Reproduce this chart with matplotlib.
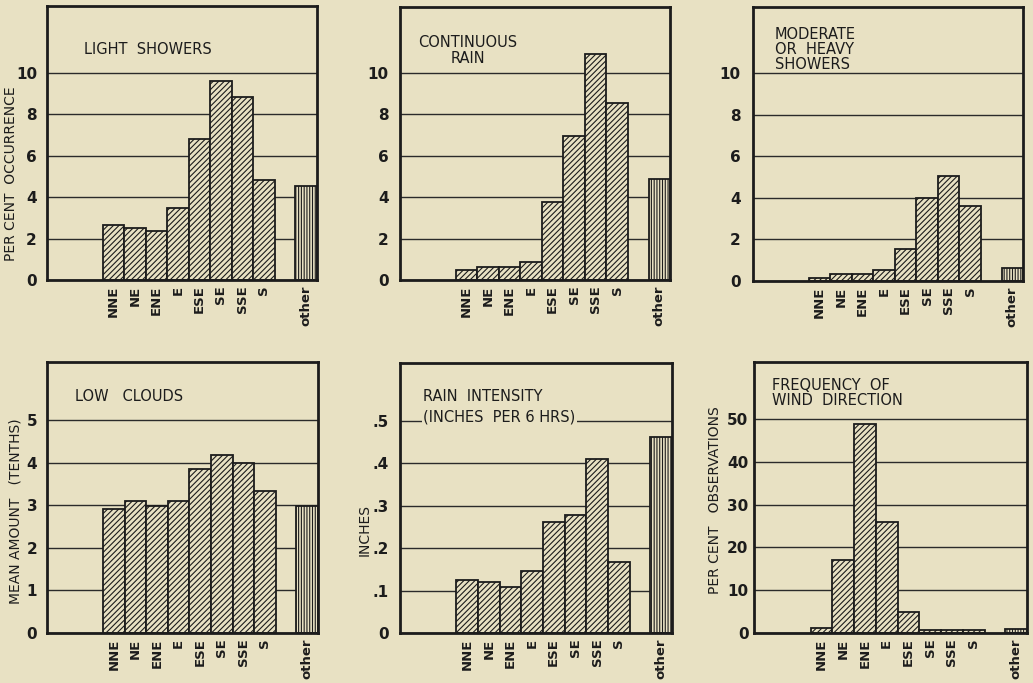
import matplotlib
matplotlib.use('Agg')
import matplotlib.pyplot as plt
import numpy as np

# ---------------- data ----------------
directions = ['NNE', 'NE', 'ENE', 'E', 'ESE', 'SE', 'SSE', 'S']
other_label = 'other'

light_showers = [2.65, 2.5, 2.35, 3.45, 6.8, 9.6, 8.8, 4.8]
light_showers_other = 4.55

continuous_rain = [0.48, 0.64, 0.64, 0.88, 3.75, 6.98, 10.93, 8.53]
continuous_rain_other = 4.86

mod_heavy_showers = [0.13, 0.35, 0.35, 0.54, 1.55, 3.98, 5.05, 3.63]
mod_heavy_showers_other = 0.64

low_clouds = [2.91, 3.10, 2.98, 3.10, 3.86, 4.17, 3.98, 3.34]
low_clouds_other = 2.99

rain_intensity = [0.125, 0.12, 0.108, 0.146, 0.262, 0.277, 0.41, 0.168]
rain_intensity_other = 0.461

wind_frequency = [1.2, 17.0, 48.7, 26.0, 4.9, 0.8, 0.8, 0.8]
wind_frequency_other = 1.0

percent_ticks = [0, 2, 4, 6, 8, 10]
percent_ticklabels = ['0', '2', '4', '6', '8', '10']
cloud_ticks = [0, 1, 2, 3, 4, 5]
cloud_ticklabels = ['0', '1', '2', '3', '4', '5']
inch_ticks = [0, 0.1, 0.2, 0.3, 0.4, 0.5]
inch_ticklabels = ['0', '.1', '.2', '.3', '.4', '.5']
wind_ticks = [0, 10, 20, 30, 40, 50]
wind_ticklabels = ['0', '10', '20', '30', '40', '50']

titles = ['LIGHT  SHOWERS', 'CONTINUOUS\nRAIN', 'MODERATE\nOR  HEAVY\nSHOWERS',
          'LOW   CLOUDS', 'RAIN  INTENSITY\n(INCHES  PER 6 HRS)', 'FREQUENCY  OF\nWIND  DIRECTION']
ylabels = ['PER CENT  OCCURRENCE', None, None, 'MEAN AMOUNT   (TENTHS)', 'INCHES',
           'PER CENT   OBSERVATIONS']

# ---------------- style ----------------
BG = '#e8e1c3'
INK = '#1c1c1c'
plt.rcParams['font.family'] = ['DejaVu Sans']
plt.rcParams['hatch.linewidth'] = 0.8
plt.rcParams['hatch.color'] = INK

fig = plt.figure(figsize=(10.33, 6.83), dpi=100, facecolor=BG)

# axes rectangles [left, bottom, width, height] in figure fractions
rects = [
    [0.0452, 0.590, 0.2614, 0.401],
    [0.3872, 0.590, 0.2614, 0.400],
    [0.7290, 0.5886, 0.2614, 0.401],
    [0.0455, 0.0732, 0.2623, 0.3968],
    [0.3872, 0.0732, 0.2633, 0.3953],
    [0.7300, 0.0732, 0.2643, 0.3968],
]

panels = [
    dict(vals=light_showers, other=light_showers_other, ticks=percent_ticks,
         tl=percent_ticklabels, ymax=13.2, tx=0.14, ty=0.84, ha='left', ls=1.1,
         ylab=(-0.106, 0.39), ypad=7),
    dict(vals=continuous_rain, other=continuous_rain_other, ticks=percent_ticks,
         tl=percent_ticklabels, ymax=13.2, tx=0.25, ty=0.84, ha='center', ls=1.05,
         ylab=None, ypad=8),
    dict(vals=mod_heavy_showers, other=mod_heavy_showers_other, ticks=percent_ticks,
         tl=percent_ticklabels, ymax=13.2, tx=0.08, ty=0.847, ha='left', ls=1.0,
         ylab=None, ypad=9),
    dict(vals=low_clouds, other=low_clouds_other, ticks=cloud_ticks,
         tl=cloud_ticklabels, ymax=6.36, tx=0.103, ty=0.871, ha='left', ls=1.1,
         ylab=(-0.092, 0.45), ypad=7),
    dict(vals=rain_intensity, other=rain_intensity_other, ticks=inch_ticks,
         tl=inch_ticklabels, ymax=0.636, tx=0.085, ty=0.837, ha='left', ls=1.45,
         ylab=(-0.103, 0.38), ypad=8),
    dict(vals=wind_frequency, other=wind_frequency_other, ticks=wind_ticks,
         tl=wind_ticklabels, ymax=63.3, tx=0.066, ty=0.887, ha='left', ls=1.0,
         ylab=(-0.117, 0.49), ypad=4),
]

for i, (rect, p) in enumerate(zip(rects, panels)):
    ax = fig.add_axes(rect)
    ax.set_facecolor(BG)
    n = len(p['vals'])
    x = np.arange(n)
    other_x = n + 0.96
    ax.bar(x, p['vals'], width=1.0, align='edge', color=BG, edgecolor=INK,
           linewidth=1.3, hatch='//////', zorder=2)
    ax.bar([other_x], [p['other']], width=1.0, align='edge', color=BG,
           edgecolor=INK, linewidth=1.3, hatch='||||||', zorder=2)
    ax.set_xlim(-2.6, other_x + 1.0)
    ax.set_ylim(0, p['ymax'])
    ax.set_yticks(p['ticks'])
    ax.set_yticklabels(p['tl'], fontsize=11, fontweight='bold', color=INK)
    ax.yaxis.grid(True, color='#2a2a2a', linewidth=1.0)
    ax.xaxis.grid(False)
    ax.set_axisbelow(True)
    ax.set_xticks(list(x + 0.5) + [other_x + 0.5])
    ax.set_xticklabels(directions + [other_label], rotation=90, fontsize=9.5,
                       fontweight='bold', color=INK)
    ax.tick_params(axis='x', length=0, pad=4)
    ax.tick_params(axis='y', length=0, pad=p['ypad'])
    for s in ax.spines.values():
        s.set_linewidth(2.0)
        s.set_color(INK)
    t = ax.text(p['tx'], p['ty'], titles[i], transform=ax.transAxes,
                fontsize=10.5, ha=p['ha'], va='center',
                multialignment='center' if p['ha'] == 'center' else 'left',
                linespacing=p['ls'], color=INK, zorder=5)
    if i == 4:
        t.set_bbox(dict(facecolor=BG, edgecolor='none', pad=1.0))
    if ylabels[i] is not None:
        ax.set_ylabel(ylabels[i], fontsize=10, color=INK)
        ax.yaxis.set_label_coords(*p['ylab'])

fig.savefig('out.png', dpi=100, facecolor=BG)
